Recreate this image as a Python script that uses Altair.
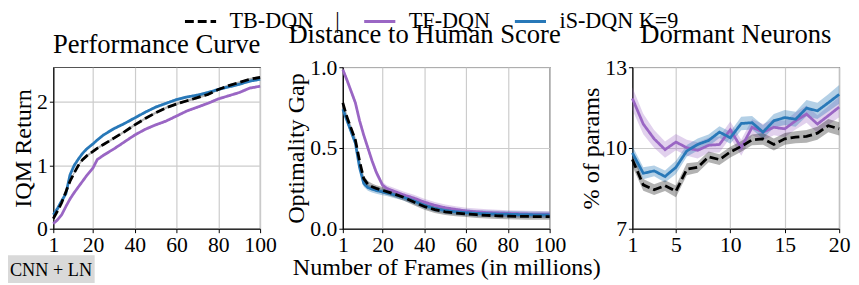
import altair as alt
import pandas as pd

FONT = "Liberation Serif"

methods = ["TB-DQN", "TF-DQN", "iS-DQN K=9"]
colors = ["#000000", "#9a66c4", "#2878b8"]
dashes = [[9, 4], [1, 0], [1, 0]]

# ---- Performance curve / optimality gap (x in millions of frames)
frames = [1, 3, 5, 7, 9, 11, 13, 15, 17, 20, 22, 25, 30, 35, 40, 45, 50, 55, 60, 65, 70, 75, 80, 85, 90, 95, 100]
perf_tb = [0.16, 0.28, 0.41, 0.58, 0.75, 0.88, 1.00, 1.09, 1.15, 1.22, 1.27, 1.33, 1.43, 1.53, 1.64, 1.74, 1.83, 1.91, 1.97, 2.02, 2.07, 2.12, 2.20, 2.26, 2.31, 2.36, 2.39]
perf_tf = [0.08, 0.14, 0.22, 0.35, 0.47, 0.57, 0.66, 0.75, 0.84, 0.96, 1.09, 1.16, 1.26, 1.37, 1.48, 1.57, 1.64, 1.70, 1.78, 1.86, 1.92, 1.98, 2.05, 2.10, 2.15, 2.22, 2.25]
perf_is = [0.22, 0.32, 0.44, 0.55, 0.85, 1.00, 1.10, 1.19, 1.26, 1.34, 1.40, 1.48, 1.58, 1.66, 1.75, 1.84, 1.92, 1.98, 2.04, 2.08, 2.11, 2.15, 2.20, 2.24, 2.28, 2.33, 2.36]

gap_tb = [0.78, 0.69, 0.62, 0.55, 0.42, 0.31, 0.275, 0.26, 0.25, 0.238, 0.23, 0.218, 0.195, 0.165, 0.138, 0.118, 0.105, 0.097, 0.092, 0.087, 0.083, 0.080, 0.078, 0.077, 0.076, 0.075, 0.075]
gap_tf = [0.985, 0.92, 0.85, 0.78, 0.67, 0.58, 0.50, 0.42, 0.35, 0.27, 0.25, 0.235, 0.21, 0.19, 0.165, 0.145, 0.13, 0.12, 0.11, 0.105, 0.10, 0.098, 0.095, 0.093, 0.091, 0.09, 0.09]
gap_is = [0.74, 0.67, 0.60, 0.53, 0.38, 0.28, 0.255, 0.245, 0.237, 0.228, 0.222, 0.212, 0.195, 0.172, 0.145, 0.125, 0.113, 0.105, 0.10, 0.095, 0.093, 0.091, 0.09, 0.088, 0.087, 0.086, 0.085]
curve_err = 0.02

# ---- Dormant neurons
dorm_x = list(range(1, 21))
dorm_tb = [9.57, 8.63, 8.45, 8.60, 8.39, 9.21, 9.28, 9.67, 9.57, 9.85, 10.06, 10.30, 10.34, 10.13, 10.34, 10.40, 10.43, 10.55, 10.83, 10.71]
dorm_tf = [11.84, 10.89, 10.34, 9.94, 10.22, 10.01, 9.91, 10.10, 10.13, 10.68, 10.01, 10.77, 10.59, 10.77, 10.71, 11.01, 11.26, 10.89, 11.20, 11.52]
dorm_is = [9.82, 9.06, 9.15, 8.94, 9.28, 9.89, 10.13, 10.28, 10.59, 10.38, 10.91, 10.94, 10.59, 11.01, 11.13, 11.07, 11.48, 11.38, 11.68, 11.99]
dorm_tb_err = [0.25, 0.22, 0.2, 0.2, 0.22, 0.22, 0.2, 0.2, 0.2, 0.2, 0.2, 0.2, 0.22, 0.22, 0.22, 0.22, 0.24, 0.24, 0.25, 0.25]
dorm_tf_err = [0.42, 0.38, 0.33, 0.3, 0.3, 0.3, 0.3, 0.28, 0.3, 0.3, 0.3, 0.3, 0.3, 0.3, 0.3, 0.32, 0.32, 0.33, 0.35, 0.38]
dorm_is_err = [0.25, 0.22, 0.2, 0.22, 0.25, 0.22, 0.22, 0.22, 0.22, 0.22, 0.25, 0.25, 0.25, 0.25, 0.28, 0.28, 0.3, 0.3, 0.32, 0.35]


def long_df(xs, series, errs):
    rows = []
    # draw order: TF (purple), iS (blue), TB (black, on top)
    for m in ["TF-DQN", "iS-DQN K=9", "TB-DQN"]:
        for x, y, e in zip(xs, series[m], errs[m]):
            rows.append({"x": x, "y": y, "lo": y - e, "hi": y + e, "method": m})
    return pd.DataFrame(rows)


n = len(frames)
perf_df = long_df(frames, {"TB-DQN": perf_tb, "TF-DQN": perf_tf, "iS-DQN K=9": perf_is},
                  {m: [curve_err] * n for m in methods})
gap_df = long_df(frames, {"TB-DQN": gap_tb, "TF-DQN": gap_tf, "iS-DQN K=9": gap_is},
                 {m: [curve_err] * n for m in methods})
dorm_df = long_df(dorm_x, {"TB-DQN": dorm_tb, "TF-DQN": dorm_tf, "iS-DQN K=9": dorm_is},
                  {"TB-DQN": dorm_tb_err, "TF-DQN": dorm_tf_err, "iS-DQN K=9": dorm_is_err})

band_style = [("TF-DQN", "#9a66c4", 0.3), ("iS-DQN K=9", "#2878b8", 0.35), ("TB-DQN", "#000000", 0.3)]

legend = alt.Legend(
    title=None,
    orient="none",
    legendX=132,
    legendY=-64,
    direction="horizontal",
    symbolType="stroke",
    symbolSize=1000,
    symbolStrokeWidth=3,
    labelFont=FONT,
    labelFontSize=22.5,
    labelColor="black",
    labelOffset=12,
    columnPadding=18,
    padding=0,
    labelExpr="datum.label == 'TB-DQN' ? 'TB-DQN\u2002\u2002|' : datum.label",
)


def make_panel(df, title, title_dx, ytitle, xdom, xvals, ydom, yvals, yfmt, xtitle):
    base = alt.Chart(df)
    xscale = alt.Scale(domain=xdom, nice=False, zero=False)
    yscale = alt.Scale(domain=ydom, nice=False, zero=False)
    xaxis = alt.Axis(values=xvals, format="d", title=xtitle)
    yaxis = alt.Axis(values=yvals, format=yfmt, title=ytitle)
    layers = []
    for m, c, op in band_style:
        layers.append(
            base.transform_filter(alt.datum.method == m)
            .mark_area(color=c, opacity=op)
            .encode(
                x=alt.X("x:Q", scale=xscale, axis=xaxis),
                y=alt.Y("lo:Q", scale=yscale, axis=yaxis),
                y2="hi:Q",
            )
        )
    line = base.mark_line(strokeWidth=2.8).encode(
        x=alt.X("x:Q", scale=xscale, axis=xaxis),
        y=alt.Y("y:Q", scale=yscale, axis=yaxis),
        color=alt.Color("method:N", scale=alt.Scale(domain=methods, range=colors), legend=legend),
        strokeDash=alt.StrokeDash("method:N", scale=alt.Scale(domain=methods, range=dashes), legend=legend),
    )
    layers.append(line)
    return layers, alt.TitleParams(text=title, dx=title_dx)


l1, t1 = make_panel(perf_df, "Performance Curve", 0, "IQM Return", [1, 100], [1, 20, 40, 60, 80, 100],
                    [0, 2.55], [0, 1, 2], "d", None)
note_df = pd.DataFrame({"label": ["CNN + LN"]})
note_rect = alt.Chart(note_df).mark_rect(color="#d9d9d9").encode(
    x=alt.value(-48), x2=alt.value(42), y=alt.value(191), y2=alt.value(219))
note_text = alt.Chart(note_df).mark_text(align="left", baseline="middle", font=FONT, fontSize=18.5, color="black").encode(
    x=alt.value(-44), y=alt.value(206), text="label:N")
p1 = alt.layer(*l1, note_rect, note_text).properties(width=210, height=164, title=t1)

l2, t2 = make_panel(gap_df, "Distance to Human Score", -22, "Optimality Gap", [1, 100], [1, 20, 40, 60, 80, 100],
                    [0, 1], [0, 0.5, 1], ".1f", "Number of Frames (in millions)")
p2 = alt.layer(*l2).properties(width=210, height=164, title=t2)

l3, t3 = make_panel(dorm_df, "Dormant Neurons", 0, "% of params", [1, 20], [1, 5, 10, 15, 20],
                    [7, 13], [7, 10, 13], "d", None)
p3 = alt.layer(*l3).properties(width=210, height=164, title=t3)

chart = (
    alt.hconcat(p1, p2, p3, spacing=84, bounds="flush")
    .resolve_scale(color="shared", strokeDash="shared")
    .properties(padding={"left": -3, "right": 0, "top": -6, "bottom": 0})
    .configure(font=FONT)
    .configure_axis(
        labelFont=FONT, labelFontSize=22, labelColor="black",
        titleFont=FONT, titleFontSize=24.5, titleFontWeight="normal", titleColor="black",
        tickColor="black", tickSize=4, tickWidth=1,
        domainColor="black", domainWidth=1.2,
        gridColor="#cccccc", gridWidth=1.2,
        labelPadding=2, titlePadding=1, labelFlush=False, labelOverlap=False,
    )
    .configure_axisX(titlePadding=0)
    .configure_view(stroke="#555555", strokeWidth=1.2)
    .configure_title(font=FONT, fontSize=27, fontWeight="normal", color="black", anchor="middle", offset=8)
)

chart.save("out.html", embed_options={"renderer": "svg", "actions": False})
